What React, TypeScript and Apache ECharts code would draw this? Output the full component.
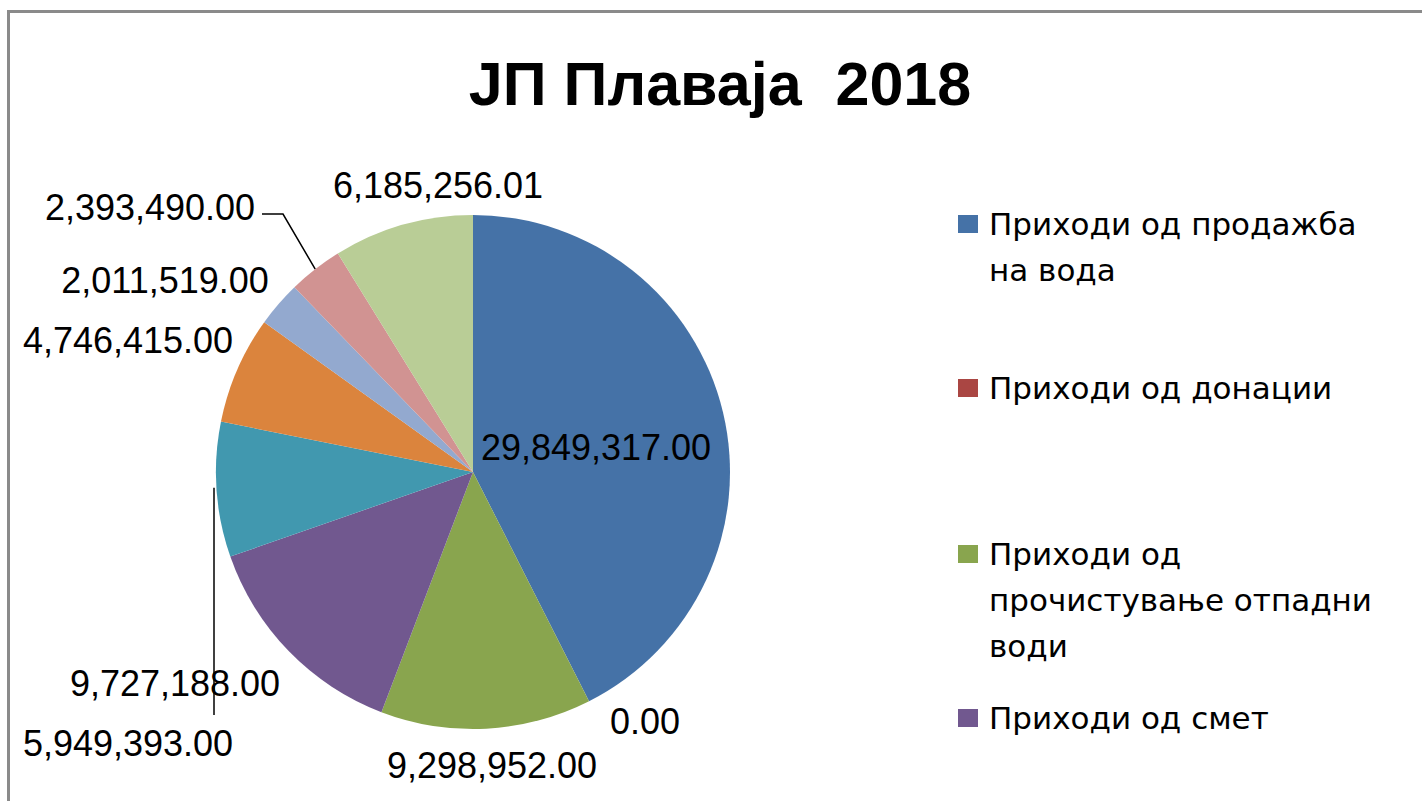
import React, { useEffect, useRef } from "react";
import * as echarts from "echarts";

// ---- data ----
const titleText = "\u0408\u041F \u041F\u043B\u0430\u0432\u0430\u0458\u0430  2018";
const categories = [
  "Приходи од продажба\nна вода",
  "Приходи од донации",
  "Приходи од\nпрочистува\u045Aе отпадни\nводи",
  "Приходи од смет",
  "Категорија 5",
  "Категорија 6",
  "Категорија 7",
  "Категорија 8",
  "Категорија 9",
];
const values = [29849317, 0, 9298952, 9727188, 5949393, 4746415, 2011519, 2393490, 6185256.01];
const legendShownCount = 4;

// ---- styles / layout ----
const colors = ["#4572A7", "#AA4643", "#89A54E", "#71588F", "#4198AF", "#DB843D", "#93A9CF", "#D19392", "#B9CD96"];
const PIE_CENTER = [473, 472];
const PIE_RADIUS = 257;
// label centres (px) chosen to mimic the original's label placement
const labelPos: number[][] = [
  [596, 447],
  [645, 721],
  [492, 765],
  [175, 683],
  [128, 743],
  [128, 340],
  [165, 280],
  [150, 207],
  [438, 185],
];
const labelLineShown = [false, false, false, false, true, false, false, true, false];
const legendCenters = [224, 388, 554, 718];
const LEGEND_LH = 46;
const LABEL_FONT = "Liberation Sans";

function fmt(v: number): string {
  return v.toLocaleString("en-US", { minimumFractionDigits: 2, maximumFractionDigits: 2 });
}

export default function App() {
  const ref = useRef<HTMLDivElement>(null);
  useEffect(() => {
    if (!ref.current) return;
    const chart = echarts.init(ref.current, undefined, { renderer: "svg" });

    const legends = categories.slice(0, legendShownCount).map((name, i) => {
      const L = name.split("\n").length;
      const H = (2 * L - 1) * LEGEND_LH;
      return {
        data: [name],
        orient: "vertical",
        left: 958,
        top: legendCenters[i] - H / 2,
        padding: 0,
        itemWidth: 20,
        itemHeight: 18,
        icon: "rect",
        selectedMode: false,
        formatter: (n: string) => "\n".repeat(L - 1) + n,
        textStyle: {
          fontFamily: "DejaVu Sans",
          fontSize: 31,
          lineHeight: LEGEND_LH,
          color: "#000",
          padding: [0, 0, 0, 6],
        },
      };
    });

    const data = categories.map((name, i) => ({
      name,
      value: values[i],
      labelLine: { show: labelLineShown[i] },
    }));

    chart.setOption({
      animation: false,
      color: colors,
      backgroundColor: "#fff",
      title: {
        text: titleText,
        left: 720,
        top: 53,
        padding: 0,
        textAlign: "center",
        textStyle: {
          fontFamily: LABEL_FONT,
          fontWeight: "bold",
          fontSize: 61,
          color: "#000",
        },
      },
      legend: legends,
      graphic: [
        {
          type: "rect",
          shape: { x: 8.5, y: 11.5, width: 1600, height: 1000 },
          style: { fill: "none", stroke: "#8a8a8a", lineWidth: 3 },
          silent: true,
          z: 100,
        },
      ],
      series: [
        {
          type: "pie",
          center: PIE_CENTER,
          radius: PIE_RADIUS,
          startAngle: 90,
          clockwise: true,
          avoidLabelOverlap: false,
          itemStyle: { borderWidth: 0 },
          label: {
            show: true,
            position: "outside",
            formatter: (p: any) => fmt(p.value),
            fontFamily: LABEL_FONT,
            fontSize: 36,
            color: "#000",
          },
          labelLine: {
            show: false,
            length: 20,
            length2: 20,
            lineStyle: { color: "#000", width: 1.5 },
          },
          labelLayout: (params: any) => {
            const i = params.dataIndex;
            const p = labelPos[i];
            const out: any = { x: p[0], y: p[1], align: "center", verticalAlign: "middle" };
            const start = params.labelLinePoints && params.labelLinePoints[0];
            if (labelLineShown[i] && start) {
              if (i === 4) {
                out.labelLinePoints = [[214, start[1] - 2], [214, 715]];
              } else if (i === 7) {
                out.labelLinePoints = [start, [283, 214], [262, 214]];
              }
            }
            return out;
          },
          emphasis: { disabled: true },
          data,
        },
      ],
    });
    return () => chart.dispose();
  }, []);

  return (
    <div
      ref={ref}
      style={{ position: "fixed", left: 0, top: 0, width: 1422, height: 801 }}
    />
  );
}
